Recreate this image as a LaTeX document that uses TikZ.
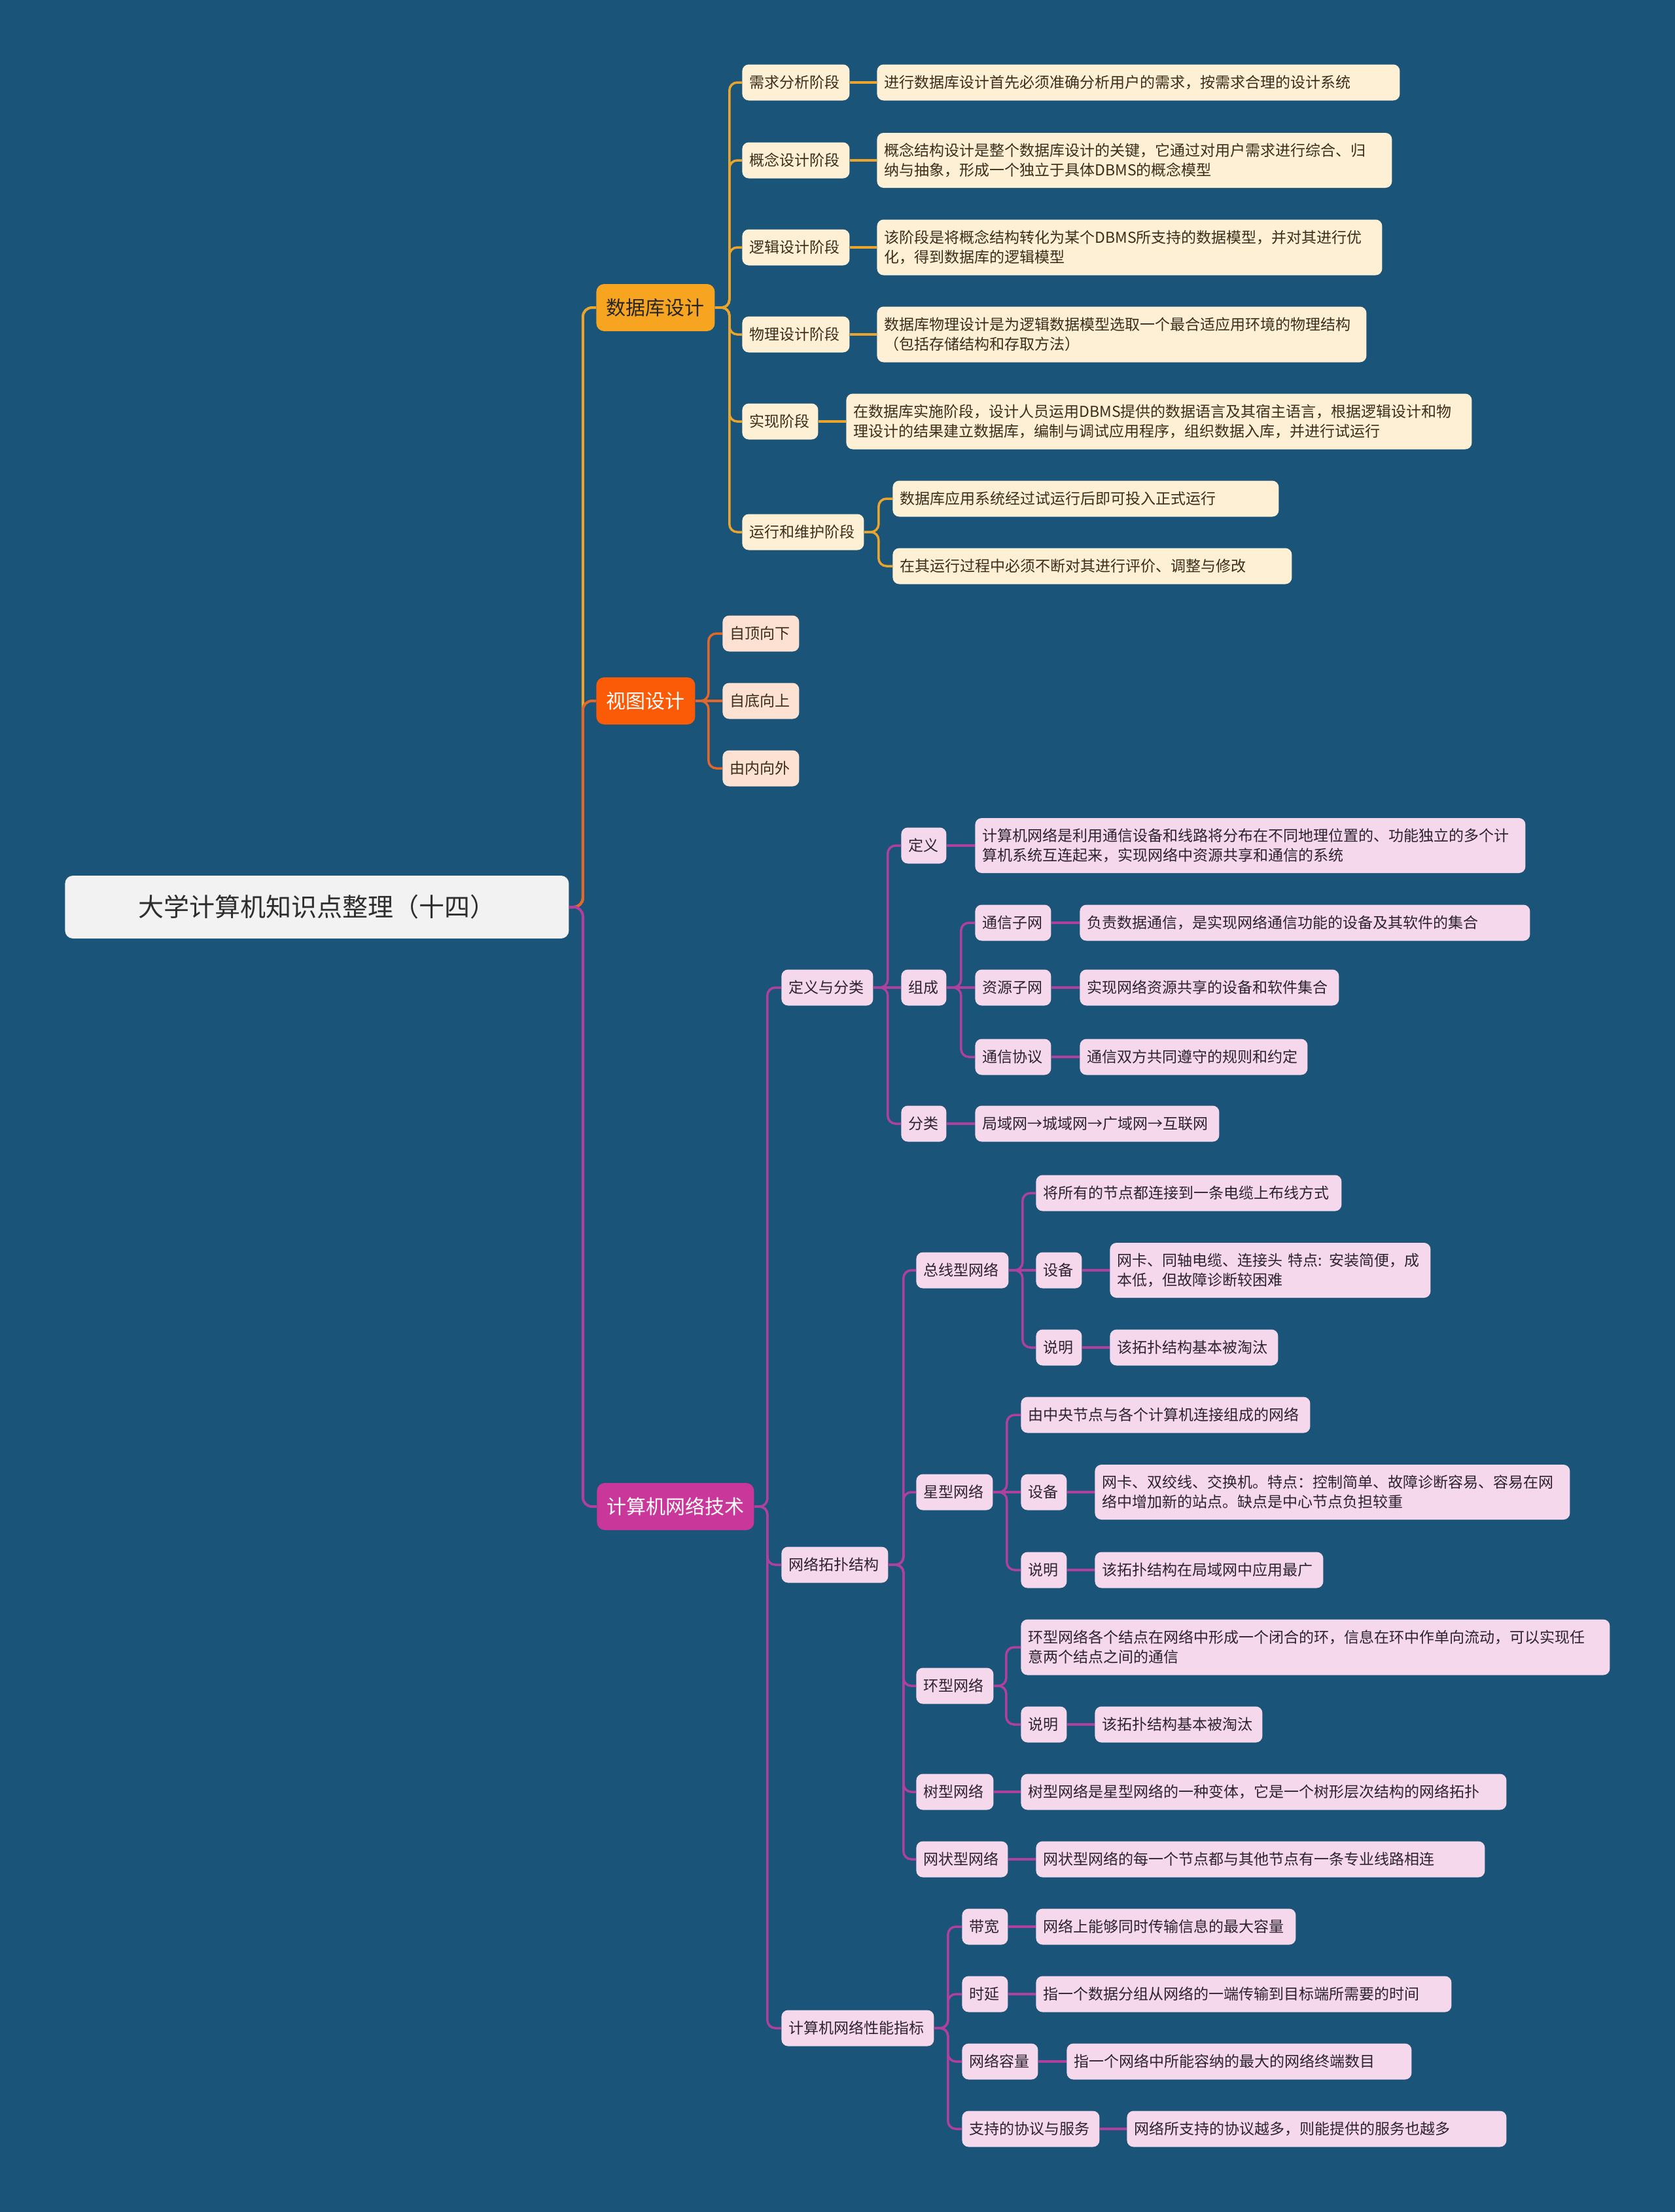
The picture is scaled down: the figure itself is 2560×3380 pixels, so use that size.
\documentclass[tikz,border=0pt]{standalone}
\usepackage{fontspec}
\setmainfont{Noto Sans CJK SC}
\definecolor{bg}{HTML}{1A5479}
\definecolor{rootfill}{HTML}{F2F2F2}
\definecolor{roottxt}{HTML}{2E2E2E}
\definecolor{dbmain}{HTML}{F7A520}
\definecolor{dbline}{HTML}{EBA52B}
\definecolor{dbfill}{HTML}{FDF0D5}
\definecolor{dbtxt}{HTML}{3A2E1C}
\definecolor{vwmain}{HTML}{FB5A06}
\definecolor{vwline}{HTML}{E3662B}
\definecolor{vwfill}{HTML}{FDE1D2}
\definecolor{ntmain}{HTML}{C9379B}
\definecolor{ntline}{HTML}{B0409F}
\definecolor{ntfill}{HTML}{F5D8EC}
\definecolor{nttxt}{HTML}{2C2230}
\tikzset{
  bx/.style={rounded corners=5pt, inner xsep=5.5pt, inner ysep=0pt, anchor=west,
    font=\fontsize{11.5}{15}\selectfont, align=left},
  dbc/.style={bx, fill=dbfill, text=dbtxt},
  vwc/.style={bx, fill=vwfill, text=dbtxt},
  ntc/.style={bx, fill=ntfill, text=nttxt},
  lone/.style={rounded corners=6pt, inner sep=0pt, anchor=west,
    font=\fontsize{15}{18}\selectfont, align=center, minimum height=36pt},
  ln/.style={line width=1.75pt, rounded corners=6pt},
  lnmain/.style={line width=2pt, rounded corners=7pt},
}
\newcommand\mybox[6]{\pgfmathsetmacro\mbw{#4*0.5-11}\node[#1, text width=\mbw pt, minimum height=#5*0.5pt] (#2) at (#3) {#6};}
\newcommand\cnb[4]{\draw[ln,#1] (#2.east) -- ++(#3,0) |- (#4.west);}
\newcommand\cns[3]{\draw[ln,#1] (#2.east) -- (#3.west);}
\begin{document}
\begin{tikzpicture}[x=0.5pt,y=-0.5pt]
\fill[bg] (0,0) rectangle (2560,3380);
\useasboundingbox (0,0) rectangle (2560,3380);

% root
\node[rounded corners=6pt, inner sep=0pt, anchor=west, fill=rootfill, text=roottxt,
  minimum width=385pt, minimum height=48pt, font=\fontsize{19.5}{23}\selectfont] (root) at (99,1386) {大学计算机知识点整理（十四）};

% level 1
\node[lone, fill=dbmain, text=black!85, minimum width=90.5pt] (db) at (911,470) {数据库设计};
\node[lone, fill=vwmain, text=white, minimum width=75.5pt] (vw) at (911,1071) {视图设计};
\node[lone, fill=ntmain, text=white, minimum width=120pt] (nt) at (912,2302) {计算机网络技术};

% database design
\mybox{dbc}{d1}{1134,126}{164}{55}{需求分析阶段}
\mybox{dbc}{d1t}{1340,126}{799}{55}{进行数据库设计首先必须准确分析用户的需求，按需求合理的设计系统}
\mybox{dbc}{d2}{1134,245}{164}{55}{概念设计阶段}
\mybox{dbc}{d2t}{1340,245}{787}{84}{概念结构设计是整个数据库设计的关键，它通过对用户需求进行综合、归\\纳与抽象，形成一个独立于具体DBMS的概念模型}
\mybox{dbc}{d3}{1134,378}{164}{55}{逻辑设计阶段}
\mybox{dbc}{d3t}{1340,378}{772}{85}{该阶段是将概念结构转化为某个DBMS所支持的数据模型，并对其进行优\\化，得到数据库的逻辑模型}
\mybox{dbc}{d4}{1134,511}{164}{55}{物理设计阶段}
\mybox{dbc}{d4t}{1340,511}{748}{85}{数据库物理设计是为逻辑数据模型选取一个最合适应用环境的物理结构\\（包括存储结构和存取方法）}
\mybox{dbc}{d5}{1134,644}{116}{55}{实现阶段}
\mybox{dbc}{d5t}{1293,644}{956}{85}{在数据库实施阶段，设计人员运用DBMS提供的数据语言及其宿主语言，根据逻辑设计和物\\理设计的结果建立数据库，编制与调试应用程序，组织数据入库，并进行试运行}
\mybox{dbc}{d6}{1134,813}{186}{55}{运行和维护阶段}
\mybox{dbc}{d6a}{1364,762}{590}{55}{数据库应用系统经过试运行后即可投入正式运行}
\mybox{dbc}{d6b}{1364,865}{610}{55}{在其运行过程中必须不断对其进行评价、调整与修改}

% view design
\mybox{vwc}{v1}{1104,968}{117}{55}{自顶向下}
\mybox{vwc}{v2}{1104,1071}{117}{55}{自底向上}
\mybox{vwc}{v3}{1104,1174}{117}{55}{由内向外}

% network
\mybox{ntc}{n1}{1194,1509}{140}{55}{定义与分类}
\mybox{ntc}{n1a}{1377,1292}{69}{55}{定义}
\mybox{ntc}{n1at}{1490,1292}{841}{84}{计算机网络是利用通信设备和线路将分布在不同地理位置的、功能独立的多个计\\算机系统互连起来，实现网络中资源共享和通信的系统}
\mybox{ntc}{n1b}{1377,1509}{69}{55}{组成}
\mybox{ntc}{n1b1}{1490,1410}{116}{55}{通信子网}
\mybox{ntc}{n1b1t}{1650,1410}{688}{55}{负责数据通信，是实现网络通信功能的设备及其软件的集合}
\mybox{ntc}{n1b2}{1490,1509}{116}{55}{资源子网}
\mybox{ntc}{n1b2t}{1650,1509}{396}{55}{实现网络资源共享的设备和软件集合}
\mybox{ntc}{n1b3}{1490,1615}{116}{55}{通信协议}
\mybox{ntc}{n1b3t}{1650,1615}{348}{55}{通信双方共同遵守的规则和约定}
\mybox{ntc}{n1c}{1377,1717}{69}{55}{分类}
\mybox{ntc}{n1ct}{1490,1717}{373}{55}{局域网→城域网→广域网→互联网}

\mybox{ntc}{n2}{1194,2391}{163}{55}{网络拓扑结构}
\mybox{ntc}{n2a}{1400,1941}{141}{55}{总线型网络}
\mybox{ntc}{n2a1}{1583,1823}{467}{55}{将所有的节点都连接到一条电缆上布线方式}
\mybox{ntc}{n2a2}{1583,1941}{70}{55}{设备}
\mybox{ntc}{n2a2t}{1696,1941}{490}{84}{网卡、同轴电缆、连接头 特点: 安装简便，成\\本低，但故障诊断较困难}
\mybox{ntc}{n2a3}{1583,2059}{70}{55}{说明}
\mybox{ntc}{n2a3t}{1696,2059}{257}{55}{该拓扑结构基本被淘汰}
\mybox{ntc}{n2b}{1400,2280}{117}{55}{星型网络}
\mybox{ntc}{n2b1}{1560,2162}{442}{55}{由中央节点与各个计算机连接组成的网络}
\mybox{ntc}{n2b2}{1560,2280}{70}{55}{设备}
\mybox{ntc}{n2b2t}{1673,2280}{726}{84}{网卡、双绞线、交换机。特点：控制简单、故障诊断容易、容易在网\\络中增加新的站点。缺点是中心节点负担较重}
\mybox{ntc}{n2b3}{1560,2399}{70}{55}{说明}
\mybox{ntc}{n2b3t}{1673,2399}{349}{55}{该拓扑结构在局域网中应用最广}
\mybox{ntc}{n2c}{1400,2576}{118}{55}{环型网络}
\mybox{ntc}{n2c1}{1560,2517}{900}{85}{环型网络各个结点在网络中形成一个闭合的环，信息在环中作单向流动，可以实现任\\意两个结点之间的通信}
\mybox{ntc}{n2c2}{1560,2635}{70}{55}{说明}
\mybox{ntc}{n2c2t}{1673,2635}{256}{55}{该拓扑结构基本被淘汰}
\mybox{ntc}{n2d}{1400,2738}{118}{55}{树型网络}
\mybox{ntc}{n2dt}{1560,2738}{742}{55}{树型网络是星型网络的一种变体，它是一个树形层次结构的网络拓扑}
\mybox{ntc}{n2e}{1400,2841}{140}{55}{网状型网络}
\mybox{ntc}{n2et}{1583,2841}{686}{55}{网状型网络的每一个节点都与其他节点有一条专业线路相连}

\mybox{ntc}{n3}{1194,3099}{233}{55}{计算机网络性能指标}
\mybox{ntc}{n3a}{1470,2944}{70}{55}{带宽}
\mybox{ntc}{n3at}{1583,2944}{397}{55}{网络上能够同时传输信息的最大容量}
\mybox{ntc}{n3b}{1470,3047}{70}{55}{时延}
\mybox{ntc}{n3bt}{1583,3047}{635}{55}{指一个数据分组从网络的一端传输到目标端所需要的时间}
\mybox{ntc}{n3c}{1470,3150}{116}{55}{网络容量}
\mybox{ntc}{n3ct}{1630,3150}{527}{55}{指一个网络中所能容纳的最大的网络终端数目}
\mybox{ntc}{n3d}{1470,3253}{210}{55}{支持的协议与服务}
\mybox{ntc}{n3dt}{1722,3253}{580}{55}{网络所支持的协议越多，则能提供的服务也越多}

% connectors: root
\draw[lnmain,dbline] (root.east) -- ++(21,0) |- (db.west);
\draw[lnmain,vwline] (root.east) -- ++(21,0) |- (vw.west);
\draw[lnmain,ntline] (root.east) -- ++(21,0) |- (nt.west);

% database
\foreach \c in {d1,d2,d3,d4,d5,d6}{\cnb{dbline}{db}{22}{\c}}
\cns{dbline}{d1}{d1t}
\cns{dbline}{d2}{d2t}
\cns{dbline}{d3}{d3t}
\cns{dbline}{d4}{d4t}
\cns{dbline}{d5}{d5t}
\cnb{dbline}{d6}{22}{d6a}
\cnb{dbline}{d6}{22}{d6b}

% view
\cnb{vwline}{vw}{20}{v1}
\cns{vwline}{vw}{v2}
\cnb{vwline}{vw}{20}{v3}

% network
\foreach \c in {n1,n2,n3}{\cnb{ntline}{nt}{20}{\c}}
\cnb{ntline}{n1}{22}{n1a}
\cns{ntline}{n1}{n1b}
\cnb{ntline}{n1}{22}{n1c}
\cns{ntline}{n1a}{n1at}
\cnb{ntline}{n1b}{22}{n1b1}
\cns{ntline}{n1b}{n1b2}
\cnb{ntline}{n1b}{22}{n1b3}
\cns{ntline}{n1b1}{n1b1t}
\cns{ntline}{n1b2}{n1b2t}
\cns{ntline}{n1b3}{n1b3t}
\cns{ntline}{n1c}{n1ct}

\foreach \c in {n2a,n2b,n2c,n2d,n2e}{\cnb{ntline}{n2}{23}{\c}}
\cnb{ntline}{n2a}{21}{n2a1}
\cns{ntline}{n2a}{n2a2}
\cnb{ntline}{n2a}{21}{n2a3}
\cns{ntline}{n2a2}{n2a2t}
\cns{ntline}{n2a3}{n2a3t}
\cnb{ntline}{n2b}{21}{n2b1}
\cns{ntline}{n2b}{n2b2}
\cnb{ntline}{n2b}{21}{n2b3}
\cns{ntline}{n2b2}{n2b2t}
\cns{ntline}{n2b3}{n2b3t}
\cnb{ntline}{n2c}{19}{n2c1}
\cnb{ntline}{n2c}{19}{n2c2}
\cns{ntline}{n2c2}{n2c2t}
\cns{ntline}{n2d}{n2dt}
\cns{ntline}{n2e}{n2et}

\foreach \c in {n3a,n3b,n3c,n3d}{\cnb{ntline}{n3}{21}{\c}}
\cns{ntline}{n3a}{n3at}
\cns{ntline}{n3b}{n3bt}
\cns{ntline}{n3c}{n3ct}
\cns{ntline}{n3d}{n3dt}
\end{tikzpicture}
\end{document}
